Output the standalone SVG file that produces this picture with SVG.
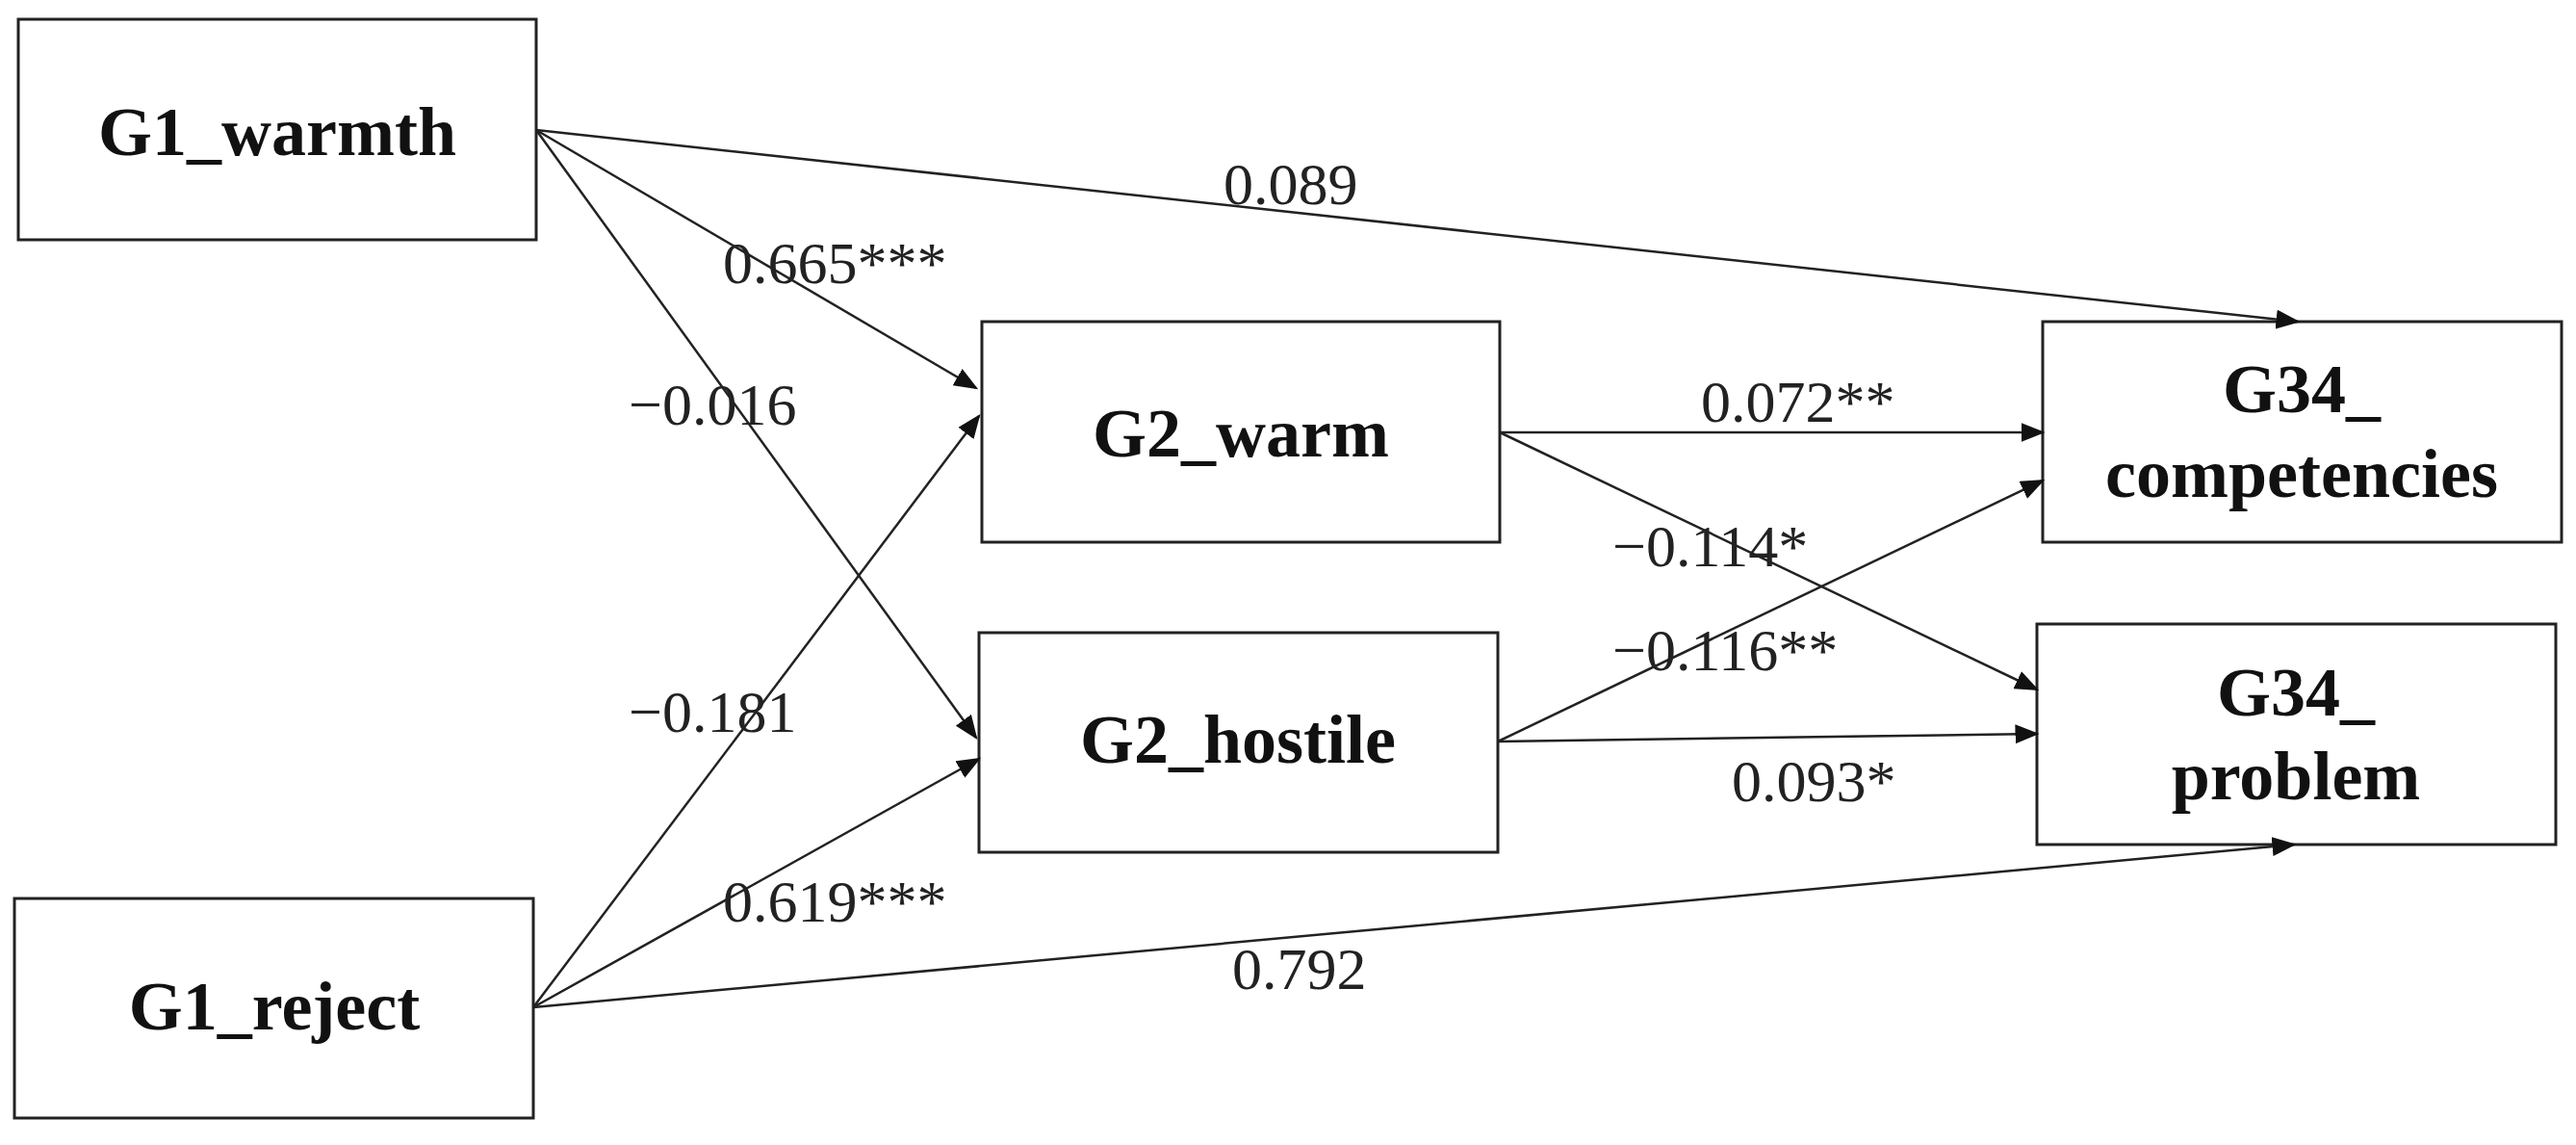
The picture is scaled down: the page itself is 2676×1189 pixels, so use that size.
<svg xmlns="http://www.w3.org/2000/svg" width="2676" height="1189" viewBox="0 0 2676 1189">
<style>
.box{fill:#fff;stroke:#222;stroke-width:3}
.n{font-family:"Liberation Serif",serif;font-weight:bold;font-size:72px;text-anchor:middle;fill:#111}
.l{font-family:"Liberation Serif",serif;font-size:62px;fill:#222}
.c line{stroke:#222;stroke-width:2.5;marker-end:url(#a)}
</style>
<defs><marker id="a" markerWidth="10" markerHeight="8" refX="9" refY="4" orient="auto" markerUnits="strokeWidth"><path d="M0,0L10,4L0,8z" fill="#111"/></marker></defs>
<rect width="2676" height="1189" fill="#fff"/>
<g id="G1_warmth"><rect class="box" x="19" y="20" width="538" height="229"/><text class="n" x="288" y="161">G1_warmth</text></g>
<g id="G1_reject"><rect class="box" x="15" y="933" width="539" height="228"/><text class="n" x="285" y="1069">G1_reject</text></g>
<g id="G2_warm"><rect class="box" x="1020" y="334" width="538" height="229"/><text class="n" x="1289" y="474">G2_warm</text></g>
<g id="G2_hostile"><rect class="box" x="1017" y="657" width="539" height="228"/><text class="n" x="1286" y="792">G2_hostile</text></g>
<g id="G34_competencies"><rect class="box" x="2122" y="334" width="539" height="229"/><text class="n" x="2391" y="428">G34_</text><text class="n" x="2391" y="516">competencies</text></g>
<g id="G34_problem"><rect class="box" x="2116" y="648" width="539" height="229"/><text class="n" x="2385" y="743">G34_</text><text class="n" x="2385" y="830">problem</text></g>
<g class="c" id="connectors">
<line x1="557" y1="135" x2="1014" y2="403"/>
<line x1="557" y1="135" x2="1014" y2="766"/>
<line x1="557" y1="135" x2="2387" y2="334"/>
<line x1="554" y1="1046" x2="1017" y2="432"/>
<line x1="554" y1="1046" x2="1017" y2="788"/>
<line x1="554" y1="1046" x2="2383" y2="877"/>
<line x1="1558" y1="449" x2="2122" y2="449"/>
<line x1="1558" y1="449" x2="2116" y2="716"/>
<line x1="1556" y1="770" x2="2122" y2="499"/>
<line x1="1556" y1="770" x2="2116" y2="762"/>
</g>
<g id="labels">
<text class="l" x="1271" y="212">0.089</text>
<text class="l" x="751" y="294">0.665***</text>
<text class="l" x="653" y="441">−0.016</text>
<text class="l" x="653" y="760">−0.181</text>
<text class="l" x="751" y="957">0.619***</text>
<text class="l" x="1280" y="1027">0.792</text>
<text class="l" x="1767" y="438">0.072**</text>
<text class="l" x="1675" y="588">−0.114*</text>
<text class="l" x="1675" y="696">−0.116**</text>
<text class="l" x="1799" y="832">0.093*</text>
</g>
</svg>
